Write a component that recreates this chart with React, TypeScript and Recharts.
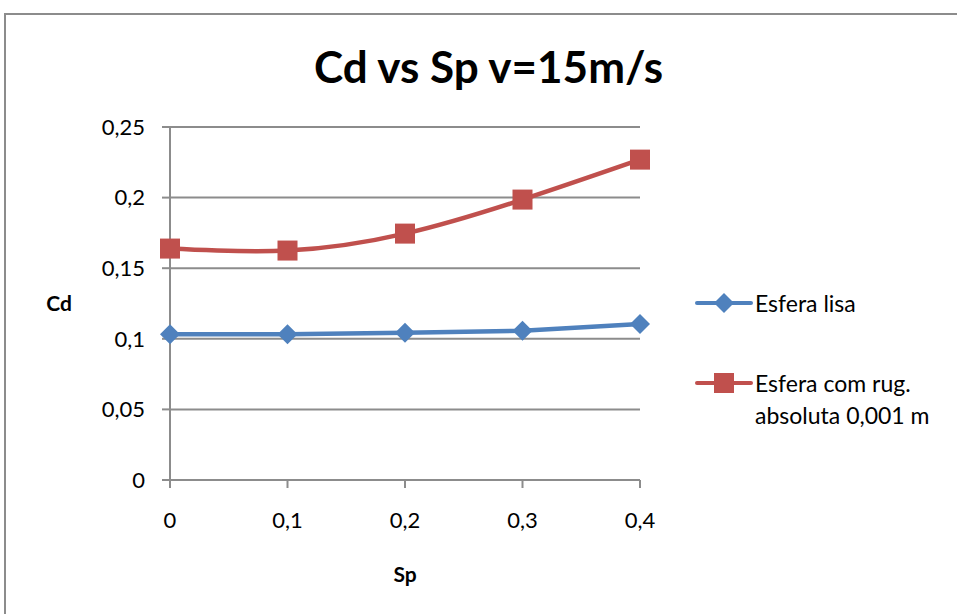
import React from 'react';
import { LineChart, Line, XAxis, YAxis, CartesianGrid } from 'recharts';

const categories = ['0', '0,1', '0,2', '0,3', '0,4'];
const esferaLisa = [0.1033, 0.1033, 0.1042, 0.1057, 0.1104];
const esferaRugosa = [0.1639, 0.1625, 0.1745, 0.1986, 0.2269];
const yTicks = [0, 0.05, 0.1, 0.15, 0.2, 0.25];

const data = categories.map((c, i) => ({ sp: c, lisa: esferaLisa[i], rug: esferaRugosa[i] }));

const BLUE = '#4F81BD';
const RED = '#C0504D';
const FONT = 'Lato, Calibri, sans-serif';

const Diamond = (props: any) => {
  const { cx, cy } = props;
  if (cx == null || cy == null) return null;
  const r = 10;
  return <path d={`M${cx},${cy - r}L${cx + r},${cy}L${cx},${cy + r}L${cx - r},${cy}Z`} fill={BLUE} />;
};

const Square = (props: any) => {
  const { cx, cy } = props;
  if (cx == null || cy == null) return null;
  const s = 10;
  return <rect x={cx - s} y={cy - s} width={s * 2} height={s * 2} fill={RED} />;
};

// legend drawn beside the chart, like the Excel original
const LegendBox = () => (
  <div style={{ position: 'absolute', left: 695, top: 287, width: 260, fontFamily: FONT, fontSize: 23, color: '#000', lineHeight: '32px' }}>
    <div style={{ display: 'flex', alignItems: 'flex-start' }}>
      <svg width={60} height={32}>
        <line x1={2} y1={16} x2={56} y2={16} stroke={BLUE} strokeWidth={4} strokeLinecap="round" />
        <path d="M29,6L39,16L29,26L19,16Z" fill={BLUE} />
      </svg>
      <span>Esfera lisa</span>
    </div>
    <div style={{ display: 'flex', alignItems: 'flex-start', marginTop: 48 }}>
      <svg width={60} height={32}>
        <line x1={2} y1={16} x2={56} y2={16} stroke={RED} strokeWidth={4} strokeLinecap="round" />
        <rect x={19} y={6} width={20} height={20} fill={RED} />
      </svg>
      <span>Esfera com rug.<br />absoluta 0,001 m</span>
    </div>
  </div>
);

const fmt = (v: number) => String(v).replace('.', ',');

export default function App() {
  return (
    <div style={{ position: 'absolute', left: 0, top: 0, width: 957, height: 614, overflow: 'hidden', background: '#fff' }}>
      <div style={{ position: 'absolute', left: 4, top: 13, width: 1000, height: 700, border: '2px solid #8c8c8c' }} />
      <div style={{ position: 'absolute', left: 0, top: 38, width: 977, textAlign: 'center', fontFamily: FONT, fontWeight: 'bold', fontSize: 44, lineHeight: '56px', color: '#000' }}>
        Cd vs Sp v=15m/s
      </div>
      <div style={{ position: 'absolute', left: 0, top: 0 }}>
        <LineChart width={957} height={614} data={data} margin={{ top: 127, right: 317, bottom: 94, left: 110 }}>
          <CartesianGrid vertical={false} stroke="#8c8c8c" strokeWidth={2} />
          <XAxis
            dataKey="sp"
            height={40}
            stroke="#8c8c8c"
            strokeWidth={2}
            tickSize={8}
            tickMargin={24}
            tick={{ fill: '#000', fontSize: 22, fontFamily: FONT }}
            label={{ value: 'Sp', position: 'bottom', offset: 47, fill: '#000', fontSize: 21, fontWeight: 'bold', fontFamily: FONT }}
          />
          <YAxis
            width={60}
            domain={[0, 0.25]}
            ticks={yTicks}
            tickFormatter={fmt}
            stroke="#8c8c8c"
            strokeWidth={2}
            tickSize={8}
            tickMargin={17}
            tick={{ fill: '#000', fontSize: 22, fontFamily: FONT }}
            label={{ value: 'Cd', position: 'left', offset: 38, fill: '#000', fontSize: 21, fontWeight: 'bold', fontFamily: FONT }}
          />
          <Line type="linear" dataKey="lisa" stroke={BLUE} strokeWidth={4.5} dot={<Diamond />} activeDot={false} isAnimationActive={false} />
          <Line type="natural" dataKey="rug" stroke={RED} strokeWidth={4.5} dot={<Square />} activeDot={false} isAnimationActive={false} />
        </LineChart>
      </div>
      <LegendBox />
    </div>
  );
}
